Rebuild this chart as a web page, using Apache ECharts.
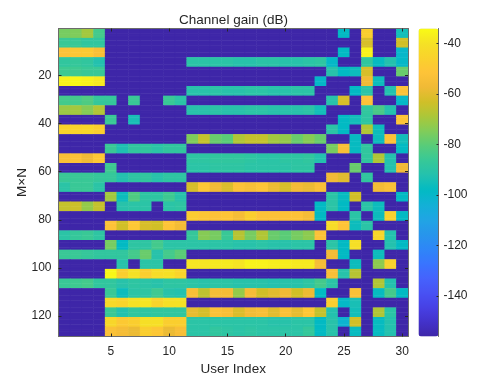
<!DOCTYPE html>
<html>
<head>
<meta charset="utf-8">
<script src="https://cdn.jsdelivr.net/npm/echarts@6/dist/echarts.min.js"></script>
<style>
html,body{margin:0;padding:0;background:#fff;}
#chart{width:504px;height:378px;}
</style>
</head>
<body>
<div id="chart"></div>
<script>
// o = no signal, sits on the floor of the colour scale
var o = -156;
var userTicks = [5, 10, 15, 20, 25, 30];
var mnTicks = [20, 40, 60, 80, 100, 120];
var gainTicks = [-140, -120, -100, -80, -60, -40];
var gainMin = -156;
var gainMax = -34;
var rowsPerBand = 4;
var parula = ['#3e26a8','#4332cb','#4741e5','#4852f4','#4563fd','#3875fe','#2e87f7','#2796eb','#20a5e3','#12b1d6','#02bac3',
	'#24c1ae','#37c897','#57cc7a','#81cc59','#abc739','#d1bf27','#f0ba36','#fec338','#f9d22c','#f5e225','#f9fb15'];

var band01 = [-76,-75,-70,-84,o,o,o,o,o,o,o,o,o,o,o,o,o,o,o,o,o,o,o,o,-98,o,-47,o,o,-95];
var band02 = [-86,-86,-88,-88,o,o,o,o,o,o,o,o,o,o,o,o,o,o,o,o,o,o,o,o,o,o,-62,o,o,-63];
var band03 = [-52,-50,-49,-54,o,o,o,o,o,o,o,o,o,o,o,o,o,o,o,o,o,o,o,o,-98,o,-36,o,o,-100];
var band04 = [-88,-87,-88,-92,o,o,o,o,o,o,o,-90,-90,-90,-90,-91,-91,-90,-90,-91,-91,-90,-89,-99,o,o,-88,-97,-92,-99];
var band05 = [-85,-85,-86,-86,o,o,o,o,o,o,o,o,o,o,o,o,o,o,o,o,o,o,o,-91,-98,-96,-62,o,o,-78];
var band06 = [-36,-35,-36,-38,o,o,o,o,o,o,o,o,o,o,o,o,o,o,o,o,o,o,-99,o,o,o,-57,-96,o,o];
var band07 = [o,o,o,o,o,o,o,o,o,o,o,-91,-91,-90,-91,-91,-90,-90,-91,-91,-90,-90,o,o,o,-98,-90,o,-92,-52];
var band08 = [-84,-84,-82,-87,-87,o,-86,o,o,-86,-90,o,o,o,o,o,o,o,o,o,o,o,o,-91,-62,o,-52,o,o,-99];
var band09 = [-71,-70,-74,-68,o,o,o,o,o,o,o,-91,-91,-90,-91,-91,-90,-90,-91,-91,-91,-90,-95,o,o,o,-88,-83,-92,o];
var band10 = [o,o,o,o,-86,o,-94,o,o,o,o,o,o,o,o,o,o,o,o,o,o,o,o,o,-98,-95,-89,o,o,-51];
var band11 = [-45,-45,-44,-47,o,o,o,o,o,o,o,o,o,o,o,o,o,o,o,o,o,o,o,-90,-98,o,-68,-96,o,o];
var band12 = [o,o,o,o,o,o,o,o,o,o,o,-75,-65,-78,-80,-68,-65,-65,-70,-72,-78,-74,-78,o,o,-97,o,-96,-52,-95];
var band13 = [o,o,o,o,-86,-93,-88,-88,-90,-88,-88,o,o,o,o,o,o,o,o,o,o,o,o,-76,-54,-97,-88,o,o,-98];
var band14 = [-54,-52,-57,-50,o,o,o,o,o,o,o,-89,-89,-88,-88,-88,-89,-90,-90,-89,-89,-88,-92,o,o,o,-88,-68,-92,o];
var band15 = [o,o,o,o,-85,o,o,o,o,o,o,-90,-90,-89,-89,-89,-90,-90,-90,-90,-89,-89,o,o,o,-78,o,o,-92,-57];
var band16 = [-86,-86,-86,-87,-87,-92,-89,-88,-91,-89,-89,o,o,o,o,o,o,o,o,o,o,o,o,-57,-60,o,-88,o,o,o];
var band17 = [-90,-86,-86,-90,o,o,o,o,o,o,o,-62,-50,-57,-61,-52,-54,-51,-58,-62,-56,-58,-53,o,o,o,o,-56,-53,o];
var band18 = [o,o,o,o,-70,-96,-82,-89,-89,-85,-91,o,o,o,o,o,o,o,o,o,o,o,o,-90,-97,-63,o,o,o,-98];
var band19 = [-65,-64,-72,-65,o,-91,-90,-90,o,-90,-89,o,o,o,o,o,o,o,o,o,o,o,-98,-90,-98,o,-90,-96,o,o];
var band20 = [o,o,o,o,o,o,o,o,o,o,o,-48,-50,-52,-51,-55,-47,-52,-52,-52,-52,-55,-98,o,o,-90,o,-96,-46,-98];
var band21 = [o,o,o,o,-52,-63,-50,-62,-63,-51,-56,o,o,o,o,o,o,o,o,o,o,o,o,-42,-51,-96,-90,o,o,o];
var band22 = [-90,-87,-86,-89,o,o,o,o,o,o,o,-87,-74,-76,-86,-67,-76,-68,-78,-80,-76,-73,-52,o,o,o,o,-44,-92,o];
var band23 = [o,o,o,o,-76,-98,-89,-89,-84,-90,-90,-90,-90,-90,-90,-91,-91,-90,-91,-91,-90,-90,o,-90,-98,-41,o,o,-92,-98];
var band24 = [-86,-86,-87,-88,-88,-88,-84,-78,-91,-84,-80,o,o,o,o,o,o,o,o,o,o,o,o,-56,-98,o,o,-96,o,o];
var band25 = [o,o,o,o,o,-91,o,-90,-90,o,o,-39,-39,-38,-38,-39,-36,-36,-37,-37,-38,-38,-55,o,o,-96,o,-73,-46,o];
var band26 = [o,o,o,o,-35,-47,-40,-47,-42,-41,-45,o,o,o,o,o,o,o,o,o,o,o,o,-54,-91,-67,o,o,o,o];
var band27 = [-86,-85,-84,-88,-88,-91,-89,-90,-91,-89,-89,-90,-91,-90,-90,-91,-91,-91,-92,-91,-91,-89,-84,-90,o,o,o,-68,-92,o];
var band28 = [o,o,o,o,-86,-96,-90,-89,-85,-91,-92,-54,-66,-55,-55,-72,-55,-63,-60,-57,-63,-58,-98,o,o,-53,o,-97,-84,-98];
var band29 = [o,o,o,o,-43,-45,-40,-39,-45,-41,-40,o,o,o,o,o,o,o,o,o,o,o,o,-47,-99,-94,o,o,o,o];
var band30 = [o,o,o,o,-86,-92,-88,-89,-88,-88,-88,-59,-62,-52,-54,-61,-56,-54,-60,-53,-59,-50,-65,-92,o,-95,o,-68,-90,o];
var band31 = [o,o,o,o,-44,-49,-47,-41,-41,-47,-47,-90,-90,-90,-90,-90,-90,-90,-91,-91,-90,-90,-98,-91,-102,-63,o,-97,-92,o];
var band32 = [o,o,o,o,-53,-55,-58,-47,-50,-58,-54,-90,-90,-88,-89,-90,-89,-90,-90,-90,-90,-87,-98,-91,o,-97,o,-97,-92,o];

var bands = [band01,band02,band03,band04,band05,band06,band07,band08,band09,band10,band11,band12,band13,band14,band15,band16,
	band17,band18,band19,band20,band21,band22,band23,band24,band25,band26,band27,band28,band29,band30,band31,band32];

var users = [], mnRows = [], cells = [];
for (var u = 1; u <= 30; u++) users.push(String(u));
for (var m = 1; m <= bands.length * rowsPerBand; m++) mnRows.push(String(m));
bands.forEach(function (band, b) {
	for (var r = 0; r < rowsPerBand; r++) {
		band.forEach(function (v, c) {
			cells.push([c, b * rowsPerBand + r, v]);
		});
	}
});

var font = '"Liberation Sans", Arial, sans-serif';
var inkColor = '#262626';
var edgeColor = '#6b6b6b';

function pickTicks(list) {
	return function (i, value) { return list.indexOf(Number(value)) >= 0; };
}
function catAxis(list, data, position, extra) {
	var axis = {
		type: 'category',
		data: data,
		position: position,
		gridIndex: 0,
		z: 10,
		axisLine: { show: true, onZero: false, lineStyle: { color: edgeColor, width: 1 } },
		axisTick: { show: true, inside: true, length: 3, alignWithLabel: true, interval: pickTicks(list), lineStyle: { color: inkColor, width: 1 } },
		axisLabel: { show: false },
		splitLine: { show: false }
	};
	for (var k in extra) axis[k] = extra[k];
	return axis;
}

var myChart = echarts.init(document.getElementById('chart'), null, { renderer: 'canvas' });
myChart.setOption({
	animation: false,
	backgroundColor: '#fff',
	textStyle: { fontFamily: font },
	title: {
		text: 'Channel gain (dB)',
		left: 233.5,
		textAlign: 'center',
		top: 13,
		padding: 0,
		textStyle: { fontFamily: font, fontSize: 13.5, fontWeight: 'normal', color: inkColor }
	},
	grid: [
		{ left: 58.5, top: 28.5, width: 349.5, height: 308, outerBoundsMode: 'none' },
		{ left: 418.5, top: 28.5, width: 20, height: 308, outerBoundsMode: 'none' }
	],
	xAxis: [
		catAxis(userTicks, users, 'bottom', {
			name: 'User Index',
			nameLocation: 'middle',
			nameGap: 24,
			nameTextStyle: { fontFamily: font, fontSize: 13.5, color: inkColor },
			axisLabel: { show: true, interval: pickTicks(userTicks), margin: 9, fontFamily: font, fontSize: 12, color: inkColor }
		}),
		catAxis(userTicks, users, 'top', {}),
		{ type: 'value', gridIndex: 1, show: false, min: 0, max: 1 }
	],
	yAxis: [
		catAxis(mnTicks, mnRows, 'left', {
			inverse: true,
			name: 'M×N',
			nameLocation: 'middle',
			nameGap: 29,
			nameMoveOverlap: false,
			nameTextStyle: { fontFamily: font, fontSize: 13.5, color: inkColor },
			axisLabel: { show: true, interval: pickTicks(mnTicks), margin: 7, fontFamily: font, fontSize: 12, color: inkColor }
		}),
		catAxis(mnTicks, mnRows, 'right', { inverse: true }),
		{
			type: 'value',
			gridIndex: 1,
			position: 'right',
			min: gainMin,
			max: gainMax,
			z: 10,
			axisLine: { show: true, onZero: false, lineStyle: { color: edgeColor } },
			axisTick: { show: true, inside: true, length: 2, customValues: gainTicks, lineStyle: { color: inkColor } },
			axisLabel: { show: true, customValues: gainTicks, margin: 5, fontFamily: font, fontSize: 12, color: inkColor },
			splitLine: { show: false }
		}
	],
	visualMap: {
		type: 'continuous',
		seriesIndex: 0,
		min: gainMin,
		max: gainMax,
		left: 418.5,
		top: 28.5,
		itemWidth: 20,
		itemHeight: 308,
		padding: 0,
		text: null,
		calculable: false,
		hoverLink: false,
		inRange: { color: parula }
	},
	series: [{
		type: 'heatmap',
		xAxisIndex: 0,
		yAxisIndex: 0,
		data: cells,
		progressive: 0,
		itemStyle: { borderWidth: 0 },
		emphasis: { disabled: true }
	}]
});
</script>
</body>
</html>
